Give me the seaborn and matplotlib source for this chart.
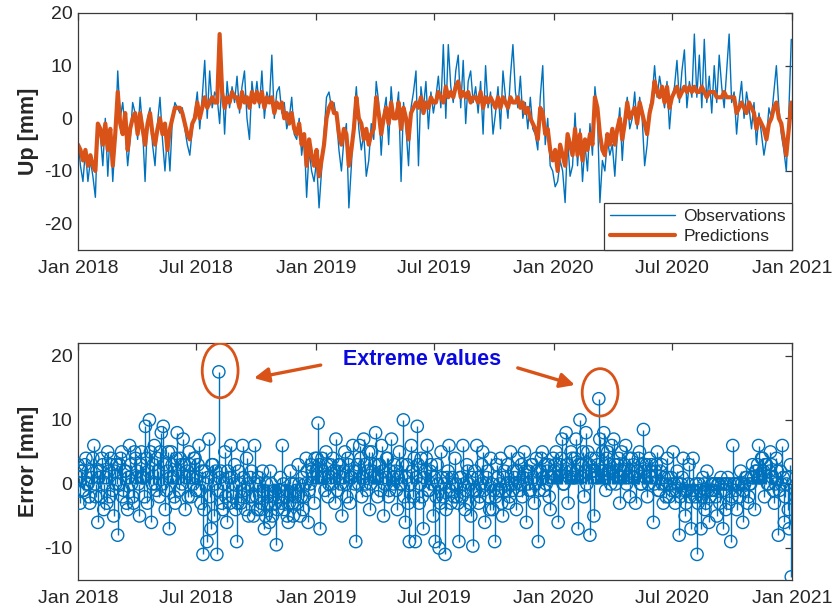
import numpy as np
import pandas as pd
import matplotlib
matplotlib.use("Agg")
import matplotlib.pyplot as plt
import matplotlib.dates as mdates
from matplotlib.patches import Ellipse
import seaborn as sns

# ---------------- data (mm) ----------------
# Up component: 8 readings per month
obs_2018 = [-4, -9, -12, -6, -12, -8, -11, -15,
            -1, -3, -9, 0, -11, -2, -12, -4,
            9, 0, 3, -2, -9, -4, 3, 1,
            -4, 4, -2, -12, 0, 2, -5, -9,
            -1, 4, -4, -10, -3, -10, 0, 3,
            2, 1, 2, -2, -5, -7, -2, 1,
            5, -2, 4, 11, 0, 9, 2, 5,
            4, -1, 8, -3, 7, 2, 6, 3,
            8, 1, 6, 9, 0, -4, 7, 3,
            7, 2, 9, 0, 5, 3, 12, 0,
            5, 6, 1, 3, -2, 0, 4, -3,
            -4, 0, -7, -3, -15, -6, -10, -12]
obs_2019 = [-8, -17, -10, -3, 4, 5, 2, 3,
            0, -6, -10, -4, -1, -17, -9, 0,
            6, -2, -6, -3, -11, -8, -1, -4,
            7, 3, -7, 1, 4, -5, 6, 0,
            1, 5, -12, 3, -2, -9, 2, 5,
            9, -9, 6, 2, 7, -2, 5, 1,
            4, 8, 2, 14, 0, 14, 6, 3,
            9, 12, 2, 11, -1, 7, 9, 3,
            6, 1, 7, -3, 10, 2, 5, -3,
            1, 6, -2, 9, 4, 0, 8, 14,
            5, 2, 8, 0, 3, -2, 4, -2,
            -3, -6, 4, 10, -5, 0, -9, -10]
obs_2020 = [-13, -12, -8, -10, -16, -4, -11, -9,
            1, -9, -2, -12, -5, -10, -1, -7,
            6, 1, -16, -8, -10, -4, -7, -5,
            -11, -3, 2, -8, 0, 4, -2, 0,
            5, -2, 4, 0, -9, -5, 2, 4,
            10, 4, 8, 5, 2, 7, -2, 4,
            6, 11, 3, 9, 13, 2, 7, 4,
            16, 4, 12, 2, 15, 3, 8, 1,
            10, 3, 12, 6, 2, 9, 16, 3,
            5, -3, 3, 7, 0, 5, 2, -2,
            3, -5, 1, -3, -7, -4, 2, 0,
            5, 10, 2, -3, -6, -10, 1, 15]

pred_2018 = [-5, -6, -8, -6, -9, -7, -9, -10,
             -1, -2, -5, -1, -6, -2, -9, -3,
             5, -1, -3, 1, -6, -2, 0, 1,
             -3, 1, -2, -5, -1, 1, -3, -5,
             -2, 0, -3, -1, -6, -2, 0, 2,
             2, 2, 1, -1, -3, -4, -1, 0,
             3, 0, 2, 4, 2, 3, 4, 3,
             3, 16, 5, 2, 4, 3, 5, 4,
             4, 2, 5, 3, 4, 2, 5, 3,
             5, 3, 5, 2, 4, 3, 4, 1,
             3, 2, 3, 0, 1, -1, 1, -2,
             -3, -1, -5, -3, -9, -4, -7, -9]
pred_2019 = [-6, -11, -8, -5, 0, 2, 3, 1,
             1, -3, -5, -2, -3, -9, -6, -2,
             4, 0, -1, -4, -2, -5, -3, -2,
             4, 1, -3, 0, 2, -1, 3, 0,
             0, 3, -2, 2, 0, -4, 1, 2,
             3, 2, 4, 1, 3, 2, 4, 3,
             3, 5, 4, 3, 6, 4, 5, 4,
             6, 7, 4, 5, 4, 5, 3, 4,
             4, 3, 5, 2, 4, 3, 4, 3,
             2, 4, 2, 4, 3, 2, 4, 3,
             3, 4, 2, 3, 1, 2, 0, -1,
             -2, -4, 2, 1, -3, -2, -6, -8]
pred_2020 = [-6, -10, -5, -7, -9, -3, -5, -7,
             -2, -7, -3, -8, -4, -6, -3, -5,
             4, 2, -3, -6, -7, -3, -5, -2,
             -5, -2, 0, -4, -1, 3, 0, 1,
             2, -1, 3, 1, -1, -3, 1, 3,
             7, 5, 4, 6, 3, 6, 2, 4,
             5, 6, 4, 5, 6, 5, 6, 5,
             6, 5, 5, 6, 5, 4, 5, 5,
             5, 4, 4, 4, 5, 4, 4, 4,
             4, 1, 2, 3, 2, 1, 3, 2,
             1, -2, 0, -1, -2, -4, -1, 0,
             2, 3, 0, -1, -4, -7, -2, 3]

# Prediction error: 20 readings per month
err_2018 = [3, 1, -3, 2, 2, -1, -1, 3, 4, 0, 0, -2, -3, 2, 1, 4, 6, 0, -2, 2,
            -6, 1, 2, -2, 4, 3, -4, 0, 1, -3, 5, 2, -2, 4, 3, -1, -5, 2, 0, 3,
            -8, 0, 3, 4, 5, -2, -1, 2, 2, -3, -4, 1, 6, 3, 0, -2, -3, 5, 4, 1,
            2, 0, -5, 3, 5, 1, 1, -2, 9, 4, -3, 2, 10, 5, -6, 0, 3, 6, 0, -1,
            4, 2, -2, 5, 8, 0, 9, 3, -4, -1, 2, 5, -7, 1, 5, 3, 1, -2, -3, 4,
            8, 2, -1, 4, 3, 0, 7, 3, -4, 1, 2, -2, 5, 3, -2, 1, 0, 4, 4, -1,
            1, 3, 6, -1, -3, 2, -11, -4, 2, 0, -9, 1, 7, -2, -7, 3, 3, -5, 0, 2,
            -11, -1, 17.5, 1, 2, -3, -4, 0, 5, -2, -6, 2, 1, -3, 6, 1, -2, 0, 3, -4,
            -9, -3, 2, 0, -3, -2, 6, 1, -1, -4, 4, 0, -5, -2, 1, 2, -2, -5, 6, 0,
            -2, -4, 1, 0, -4, -3, 2, -1, -7, -5, 0, -2, -3, -6, 2, 0, -5, -2, -1, -3,
            -9.5, -4, -2, -1, 1, -3, 6, 0, -4, -2, -1, -5, -6, -3, 2, 0, -3, -5, 0, -2,
            -1, -3, 3, 0, -5, -2, 1, -4, -2, 0, 4, 2, -6, -1, 0, 3, 2, 1, -3, 4]
err_2019 = [2, 4, 9.5, 3, -7, 1, 4, 2, 1, -1, 5, 3, -2, 0, 3, 1, 0, 4, 2, -3,
            7, 2, -1, 3, 3, 0, -5, 1, 2, 5, 0, -2, 4, 3, -3, 1, 1, 6, 2, 0,
            -9, 2, 3, 0, 6, 4, -2, 1, 7, 3, 0, -1, 2, 5, -4, 0, 5, 2, 1, 3,
            8, 1, -2, 3, 3, -1, 6, 2, -5, 0, 1, 4, 4, -2, -1, 2, 7, 1, 0, 3,
            2, -1, -4, 1, 5, 0, 0, 3, 10, -2, -6, 1, 3, -3, -9, 0, 6, 2, -2, 4,
            -9, 1, 9, 3, -3, 0, 4, -2, -7, 1, 2, 4, 6, -1, -1, 2, 3, 0, -5, 1,
            -9, -2, 3, 0, -10, -3, 5, 1, -2, 0, -11, -4, 1, 2, 6, -1, -3, 1, 0, -2,
            4, 0, -2, -3, -9, 1, 1, -2, 6, 0, -4, -1, 3, 2, 0, -3, -5, 1, -9.7, -1,
            2, -1, 6, 1, -3, -2, 0, 3, 5, -1, -6, 0, 1, 2, -2, -4, 4, 0, -4, -1,
            -9, -2, 3, 1, -1, 0, 4, -3, -5, 1, 2, -1, 0, 3, -3, -2, 5, 0, -1, 2,
            1, 0, -4, 2, 4, -1, 0, 3, -2, 1, 5, 2, -6, 0, 2, -1, -1, 3, 3, 1,
            -3, 0, 4, 2, -9, -1, 2, 4, 5, 1, -1, 3, 0, 2, 3, -2, -4, 1, 1, 4]
err_2020 = [2, 3, 5, 1, -6, 2, 3, 4, 7, 0, 0, 2, 8, 3, -3, 1, 2, 5, 4, 1,
            1, 4, 7, 2, -7, 3, 10, 1, 3, 5, -2, 2, 8, 0, 5, 3, -8, 4, 2, 1,
            -5, 2, 4, 1, 3, 13.3, 7, 2, 2, 5, 8, 1, -1, 4, 5, 2, 3, 0, 6, 2,
            7, 3, 0, 2, 3, 4, -3, 1, 5, 2, 2, 3, 6, 0, 1, 4, -2, 2, 4, 1,
            3, 1, -3, 2, 2, 4, 5, 0, 0, 3, 8.5, 2, 1, 3, -2, 0, 4, 2, 3, 1,
            -6, 0, 2, 3, 5, -1, -1, 2, 3, 0, -3, 1, 0, -2, 4, 1, -2, 0, 1, -1,
            5, 0, -3, -1, 2, 0, -8, -2, 0, 1, 4, -1, -5, -3, -1, 0, 3, -2, -7, -1,
            4, -1, -2, 0, -11, -3, 0, -1, -7, -2, 1, 0, -4, -3, 2, -1, -6, -2, -1, 0,
            0, -1, 0, -2, -5, 0, 0, -3, 1, 0, -7, -1, 0, -4, 0, 1, -3, 0, -9, -2,
            6, 0, 0, -1, -4, 0, 0, -2, 2, 0, -6, -1, 0, 1, 1, -3, -2, 0, 0, 1,
            3, 1, -4, 2, 2, 3, 6, 1, 1, 4, 4, 2, -2, 3, 3, 0, 0, 2, 5, 3,
            1, -1, -3, 0, 4, 2, -8, -1, 2, 0, 6, 1, -6, -2, 0, 1, -4, -7, 3, -14.5]

x_ticklabels = ["Jan 2018", "Jul 2018", "Jan 2019", "Jul 2019",
                "Jan 2020", "Jul 2020", "Jan 2021"]

obs = obs_2018 + obs_2019 + obs_2020
pred = pred_2018 + pred_2019 + pred_2020
err = err_2018 + err_2019 + err_2020
start, end = pd.Timestamp("2018-01-01"), pd.Timestamp("2020-12-31")
top = pd.DataFrame({"date": pd.date_range(start, end, periods=len(obs)),
                    "Observations": obs, "Predictions": pred})
bot = pd.DataFrame({"date": pd.date_range(start, end, periods=len(err)),
                    "Error": err})

# ---------------- style ----------------
BLUE = "#0072BD"
ORANGE = "#D95319"
AXC = "#3a3a3a"
sns.set_theme(style="white")
plt.rcParams["font.family"] = ["Liberation Sans", "DejaVu Sans"]
plt.rcParams["axes.unicode_minus"] = False
plt.rcParams["axes.edgecolor"] = AXC
plt.rcParams["axes.linewidth"] = 0.9

fig = plt.figure(figsize=(8.33, 6.13), dpi=100)
ax1 = fig.add_axes([0.0936, 0.5922, 0.8571, 0.3866])
ax2 = fig.add_axes([0.0936, 0.0538, 0.8571, 0.3866])

# ---------------- top: observations vs predictions ----------------
sns.lineplot(data=top, x="date", y="Observations", ax=ax1, color=BLUE,
             linewidth=1.0, label="Observations")
sns.lineplot(data=top, x="date", y="Predictions", ax=ax1, color=ORANGE,
             linewidth=3.0, label="Predictions")
ax1.set_ylim(-25, 20)
ax1.set_yticks([-20, -10, 0, 10, 20])
ax1.set_ylabel("Up [mm]", fontsize=15.5, fontweight="bold", labelpad=4)
leg = ax1.legend(loc="lower right", borderaxespad=0, fancybox=False,
                 edgecolor=AXC, fontsize=12.5, handlelength=3.7,
                 framealpha=1, borderpad=0.35, labelspacing=0.25,
                 handletextpad=0.5)
leg.get_frame().set_linewidth(0.9)

# ---------------- bottom: error stems ----------------
ax2.vlines(bot["date"], 0, bot["Error"], color=BLUE, linewidth=1.0)
sns.scatterplot(data=bot, x="date", y="Error", ax=ax2, marker="o", s=78,
                facecolor="none", edgecolor=BLUE, linewidth=1.0, zorder=3)
ax2.set_ylim(-15, 22)
ax2.set_yticks([-10, 0, 10, 20])
ax2.set_ylabel("Error [mm]", fontsize=15.5, fontweight="bold", labelpad=4)

# highlight the two extreme values
for yr in (bot[bot["date"].dt.year == 2018], bot[bot["date"].dt.year == 2020]):
    i = yr["Error"].idxmax()
    d, v = bot.loc[i, "date"], bot.loc[i, "Error"]
    ax2.add_patch(Ellipse((mdates.date2num(d) + 2, v + 0.2 if v > 15 else v + 1),
                          width=55, height=8.5 if v > 15 else 7.4,
                          fill=False, edgecolor=ORANGE, linewidth=2.0, zorder=5))

ax2.text(0.482, 0.932, "Extreme values", transform=ax2.transAxes,
         ha="center", va="center", fontsize=15.5, fontweight="bold",
         color="#0A0AE0")
arrow = dict(arrowstyle="-|>", color=ORANGE, lw=2.4, mutation_scale=22,
             shrinkA=0, shrinkB=0)
ax2.annotate("", xy=(0.2465, 0.852), xytext=(0.340, 0.907),
             xycoords="axes fraction", textcoords="axes fraction",
             arrowprops=arrow)
ax2.annotate("", xy=(0.696, 0.823), xytext=(0.616, 0.895),
             xycoords="axes fraction", textcoords="axes fraction",
             arrowprops=arrow)

# ---------------- shared axis formatting ----------------
xticks = pd.to_datetime(x_ticklabels, format="%b %Y")
for ax in (ax1, ax2):
    ax.set_xlim(pd.Timestamp("2018-01-01"), pd.Timestamp("2021-01-01"))
    ax.set_xticks(xticks)
    ax.set_xticklabels(x_ticklabels)
    ax.set_xlabel("")
    ax.tick_params(axis="both", direction="in", top=True, right=True,
                   length=5, width=0.9, color=AXC, labelcolor="#262626",
                   labelsize=14)
    ax.tick_params(axis="x", pad=7)
    ax.tick_params(axis="y", pad=4)
    for s in ax.spines.values():
        s.set_visible(True)
        s.set_color(AXC)

fig.savefig("out.png", dpi=100)
